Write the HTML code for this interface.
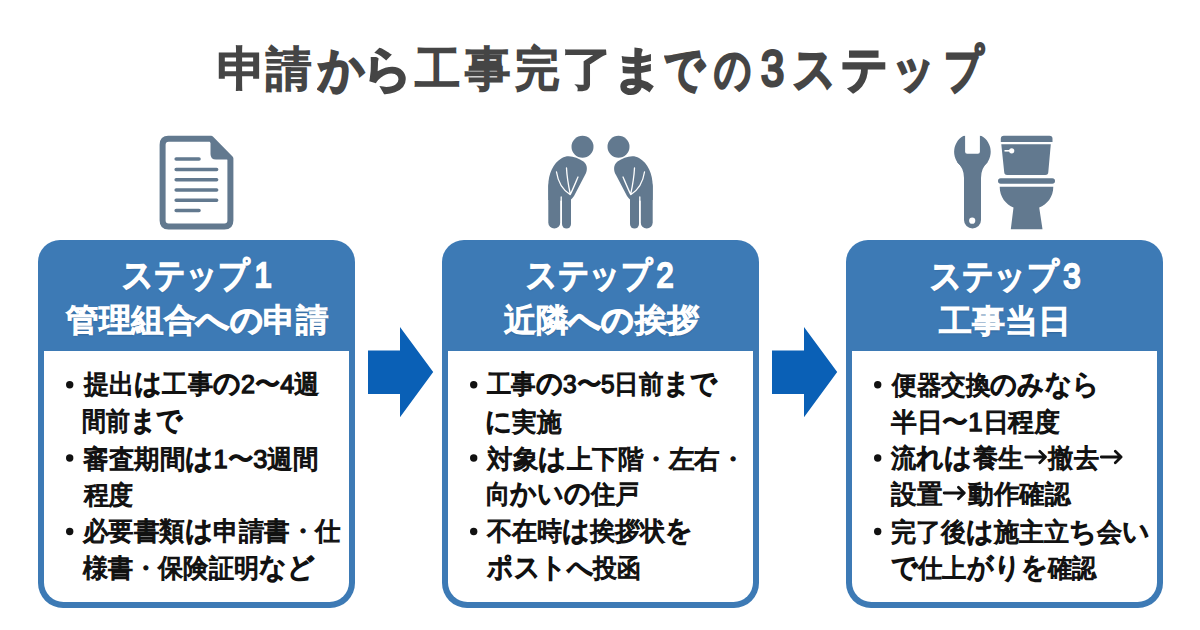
<!DOCTYPE html>
<html lang="ja">
<head>
<meta charset="utf-8">
<style>
html,body{margin:0;padding:0;}
body{width:1200px;height:630px;background:#fff;position:relative;overflow:hidden;font-family:"Liberation Sans",sans-serif;}
.card{position:absolute;top:240px;width:317px;height:367.5px;background:#3d7ab5;border-radius:22px 22px 25px 25px;}
.bd{position:absolute;left:6px;top:111px;right:6px;bottom:6px;background:#fff;border-radius:0 0 19.5px 19.5px;}
.t{position:absolute;white-space:nowrap;font-weight:normal;line-height:60px;transform-origin:0 0;}
.title{font-size:47px;color:#454545;-webkit-text-stroke:2.4px #454545;}
.hd{font-size:32px;color:#fff;-webkit-text-stroke:1.6px #fff;text-shadow:0 1px 2px rgba(10,35,70,0.5);}
.li{font-size:26px;color:#111111;-webkit-text-stroke:1.25px #111111;}
svg.ov{position:absolute;left:0;top:0;}
</style>
</head>
<body>
<div class="card" style="left:38px"><div class="bd"></div></div><div class="card" style="left:442px"><div class="bd"></div></div><div class="card" style="left:846px"><div class="bd"></div></div>
<div class="t title" style="left:216.59px;top:39.3px;font-size:47px;-webkit-text-stroke-width:2.4px;transform:scaleX(1.0539)">申</div><div class="t title" style="left:266.22px;top:39.3px;font-size:47px;-webkit-text-stroke-width:2.4px;transform:scaleX(0.9698)">請</div><div class="t title" style="left:318.19px;top:39.3px;font-size:49px;-webkit-text-stroke-width:3.6px;transform:scaleX(0.9363)">か</div><div class="t title" style="left:363.34px;top:39.3px;font-size:49px;-webkit-text-stroke-width:3.6px;transform:scaleX(0.9944)">ら</div><div class="t title" style="left:414.8px;top:39.3px;font-size:47px;-webkit-text-stroke-width:2.4px;transform:scaleX(0.9652)">工</div><div class="t title" style="left:464.75px;top:39.3px;font-size:47px;-webkit-text-stroke-width:2.4px;transform:scaleX(0.9663)">事</div><div class="t title" style="left:514.6px;top:39.3px;font-size:47px;-webkit-text-stroke-width:2.4px;transform:scaleX(0.9447)">完</div><div class="t title" style="left:562.25px;top:39.3px;font-size:47px;-webkit-text-stroke-width:2.4px;transform:scaleX(1.0842)">了</div><div class="t title" style="left:612.78px;top:39.3px;font-size:49px;-webkit-text-stroke-width:3.6px;transform:scaleX(0.9882)">ま</div><div class="t title" style="left:664.1px;top:39.3px;font-size:49px;-webkit-text-stroke-width:3.6px;transform:scaleX(0.8135)">で</div><div class="t title" style="left:713.5px;top:39.3px;font-size:49px;-webkit-text-stroke-width:3.6px;transform:scaleX(0.75)">の</div><div class="t title" style="left:761.25px;top:39.3px;font-size:50px;-webkit-text-stroke-width:3.2px;transform:scaleX(0.8333)">3</div><div class="t title" style="left:792.5px;top:39.3px;font-size:50px;-webkit-text-stroke-width:3.8px;transform:scaleX(0.8424)">ス</div><div class="t title" style="left:840.65px;top:39.3px;font-size:50px;-webkit-text-stroke-width:3.8px;transform:scaleX(0.9239)">テ</div><div class="t title" style="left:892.37px;top:39.3px;font-size:50px;-webkit-text-stroke-width:3.8px;transform:scaleX(0.8553)">ッ</div><div class="t title" style="left:943.92px;top:39.3px;font-size:50px;-webkit-text-stroke-width:3.8px;transform:scaleX(0.775)">プ</div><div class="t hd" style="left:121.7px;top:245.3px;letter-spacing:0.084px;-webkit-text-stroke-width:2.3px;font-size:35px;transform:scaleX(0.8868)">ステップ<span style="margin-left:5px">1</span></div><div class="t hd" style="left:66.3px;top:290.3px;letter-spacing:0.07px;-webkit-text-stroke-width:1.8px;font-size:32px;transform:scaleX(1.0135)">管理組合<span style="-webkit-text-stroke-width:2.5px">への</span>申請</div><div class="t hd" style="left:525.7px;top:245.3px;letter-spacing:-0.057px;-webkit-text-stroke-width:2.3px;font-size:35px;transform:scaleX(0.8778)">ステップ<span style="margin-left:5px">2</span></div><div class="t hd" style="left:503.75px;top:290.3px;letter-spacing:-0.049px;-webkit-text-stroke-width:1.8px;font-size:32px;transform:scaleX(1.0064)">近隣<span style="-webkit-text-stroke-width:2.5px">への</span>挨拶</div><div class="t hd" style="left:929.6px;top:245.8px;letter-spacing:0.112px;-webkit-text-stroke-width:2.3px;font-size:35px;transform:scaleX(0.891)">ステップ<span style="margin-left:5px">3</span></div><div class="t hd" style="left:939.3px;top:290.6px;letter-spacing:0.033px;-webkit-text-stroke-width:1.8px;font-size:32px;transform:scaleX(1.0301)">工事当日</div><div class="t li" style="left:84.3px;top:354.3px;letter-spacing:0.033px;-webkit-text-stroke-width:1.25px;font-size:26px;transform:scaleX(0.9676)">提出<span style="font-size:28px;line-height:10px;-webkit-text-stroke-width:1.6px">は</span>工事<span style="font-size:28px;line-height:10px;-webkit-text-stroke-width:1.6px">の</span>2〜4週</div><div class="t li" style="left:82.3px;top:391.3px;letter-spacing:-0.181px;-webkit-text-stroke-width:1.25px;font-size:26px;transform:scaleX(0.922)">間前<span style="font-size:28px;line-height:10px;-webkit-text-stroke-width:1.6px">まで</span></div><div class="t li" style="left:83.3px;top:428.6px;letter-spacing:0.022px;-webkit-text-stroke-width:1.25px;font-size:26px;transform:scaleX(0.9808)">審査期間<span style="font-size:28px;line-height:10px;-webkit-text-stroke-width:1.6px">は</span>1〜3週間</div><div class="t li" style="left:84.3px;top:465.4px;letter-spacing:-1.04px;-webkit-text-stroke-width:1.25px;font-size:26px;transform:scaleX(0.9615)">程度</div><div class="t li" style="left:83.3px;top:501.1px;letter-spacing:0.011px;-webkit-text-stroke-width:1.25px;font-size:26px;transform:scaleX(0.9798)">必要書類<span style="font-size:28px;line-height:10px;-webkit-text-stroke-width:1.6px">は</span>申請書・仕</div><div class="t li" style="left:83.3px;top:537.8px;letter-spacing:0.013px;-webkit-text-stroke-width:1.25px;font-size:26px;transform:scaleX(0.9654)">様書・保険証明<span style="font-size:28px;line-height:10px;-webkit-text-stroke-width:1.6px">など</span></div><div class="t li" style="left:487.3px;top:354.3px;letter-spacing:-0.105px;-webkit-text-stroke-width:1.25px;font-size:26px;transform:scaleX(0.9419)">工事<span style="font-size:28px;line-height:10px;-webkit-text-stroke-width:1.6px">の</span>3〜5日前<span style="font-size:28px;line-height:10px;-webkit-text-stroke-width:1.6px">まで</span></div><div class="t li" style="left:485.3px;top:392.3px;letter-spacing:-0.106px;-webkit-text-stroke-width:1.25px;font-size:26px;transform:scaleX(0.9443)"><span style="font-size:28px;line-height:10px;-webkit-text-stroke-width:1.6px">に</span>実施</div><div class="t li" style="left:487.3px;top:428.6px;letter-spacing:-0.033px;-webkit-text-stroke-width:1.25px;font-size:26px;transform:scaleX(0.9838)">対象<span style="font-size:28px;line-height:10px;-webkit-text-stroke-width:1.6px">は</span>上下階・左右・</div><div class="t li" style="left:486.3px;top:464.4px;letter-spacing:0.022px;-webkit-text-stroke-width:1.25px;font-size:26px;transform:scaleX(0.9307)">向<span style="font-size:28px;line-height:10px;-webkit-text-stroke-width:1.6px">かいの</span>住戸</div><div class="t li" style="left:487.3px;top:501.1px;letter-spacing:-0.132px;-webkit-text-stroke-width:1.25px;font-size:26px;transform:scaleX(0.9654)">不在時<span style="font-size:28px;line-height:10px;-webkit-text-stroke-width:1.6px">は</span>挨拶状<span style="font-size:28px;line-height:10px;-webkit-text-stroke-width:1.6px">を</span></div><div class="t li" style="left:487.3px;top:537.8px;letter-spacing:-0.023px;-webkit-text-stroke-width:1.25px;font-size:26px;transform:scaleX(0.9175)"><span style="font-size:28px;line-height:10px;-webkit-text-stroke-width:1.6px">ポストへ</span>投函</div><div class="t li" style="left:892.3px;top:355.3px;letter-spacing:-0.045px;-webkit-text-stroke-width:1.25px;font-size:26px;transform:scaleX(0.944)">便器交換<span style="font-size:28px;line-height:10px;-webkit-text-stroke-width:1.6px">のみなら</span></div><div class="t li" style="left:891.3px;top:392.3px;letter-spacing:-0.117px;-webkit-text-stroke-width:1.25px;font-size:26px;transform:scaleX(0.9947)">半日〜1日程度</div><div class="t li" style="left:891.3px;top:427.6px;letter-spacing:0.102px;-webkit-text-stroke-width:1.25px;font-size:26px;transform:scaleX(0.9689)">流<span style="font-size:28px;line-height:10px;-webkit-text-stroke-width:1.6px">れは</span>養生<svg width="26" height="26" viewBox="0 0 26 26" style="display:inline-block;vertical-align:-3px"><path d="M2 13H22.5M16.5 7.2L22.5 13L16.5 18.8" fill="none" stroke="#111" stroke-width="2.8" stroke-linecap="round" stroke-linejoin="round"/></svg>撤去<svg width="26" height="26" viewBox="0 0 26 26" style="display:inline-block;vertical-align:-3px"><path d="M2 13H22.5M16.5 7.2L22.5 13L16.5 18.8" fill="none" stroke="#111" stroke-width="2.8" stroke-linecap="round" stroke-linejoin="round"/></svg></div><div class="t li" style="left:891.3px;top:464.4px;letter-spacing:0.051px;-webkit-text-stroke-width:1.25px;font-size:26px;transform:scaleX(0.9842)">設置<svg width="26" height="26" viewBox="0 0 26 26" style="display:inline-block;vertical-align:-3px"><path d="M2 13H22.5M16.5 7.2L22.5 13L16.5 18.8" fill="none" stroke="#111" stroke-width="2.8" stroke-linecap="round" stroke-linejoin="round"/></svg>動作確認</div><div class="t li" style="left:891.3px;top:502.1px;letter-spacing:-0.036px;-webkit-text-stroke-width:1.25px;font-size:26px;transform:scaleX(0.9622)">完了後<span style="font-size:28px;line-height:10px;-webkit-text-stroke-width:1.6px">は</span>施主立<span style="font-size:28px;line-height:10px;-webkit-text-stroke-width:1.6px">ち</span>会<span style="font-size:28px;line-height:10px;-webkit-text-stroke-width:1.6px">い</span></div><div class="t li" style="left:891.3px;top:537.8px;letter-spacing:-0.093px;-webkit-text-stroke-width:1.25px;font-size:26px;transform:scaleX(0.9355)"><span style="font-size:28px;line-height:10px;-webkit-text-stroke-width:1.6px">で</span>仕上<span style="font-size:28px;line-height:10px;-webkit-text-stroke-width:1.6px">がりを</span>確認</div>
<svg class="ov" width="1200" height="630" viewBox="0 0 1200 630">
<g fill="#111111"><circle cx="69.7" cy="384.7" r="3.7"/><circle cx="69.7" cy="458.0" r="3.7"/><circle cx="69.7" cy="531.5" r="3.7"/><circle cx="473.7" cy="384.7" r="3.7"/><circle cx="473.7" cy="458.0" r="3.7"/><circle cx="473.7" cy="531.5" r="3.7"/><circle cx="877.7" cy="384.7" r="3.7"/><circle cx="877.7" cy="458.0" r="3.7"/><circle cx="877.7" cy="531.5" r="3.7"/></g>
<g fill="#0a60b6">
<polygon points="368,350.5 400,350.5 400,327 433.2,372 400,417.2 400,394 368,394"/>
<polygon points="772,350.5 804,350.5 804,327 837.2,372 804,417.2 804,394 772,394"/>
</g>
<!-- document icon -->
<g fill="none" stroke="#62798f" stroke-width="6" stroke-linejoin="round" stroke-linecap="round">
<path d="M168,138.8 H211 L230.4,158.5 V220.4 Q230.4,226.4 224.4,226.4 H168.6 Q162.6,226.4 162.6,220.4 V144.8 Q162.6,138.8 168.6,138.8 Z"/>
</g>
<path fill="#62798f" d="M210.5,137.5 L232.5,159.5 L216,159.5 Q210.5,159.5 210.5,154 Z"/>
<g stroke="#62798f" stroke-width="3.6" stroke-linecap="round">
<path d="M176.2,159 H199 M176.2,169.5 H216.6 M176.2,179.8 H216.6 M176.2,190 H216.6 M176.2,200.3 H216.6 M176.2,210.5 H199"/>
</g>
<!-- bowing people -->
<g fill="#62798f">
<circle cx="582.5" cy="146.8" r="11"/>
<path id="bodyL" d="M548.3,200 L548.3,186 C548.3,174 553,163 562,158 C568,154 577,157 583.5,161.5 C588,165 587.5,171 585,175 L574,196 C572,199 570,201 566,201 Z"/>
<rect x="548.3" y="180" width="12" height="48.5" rx="6"/>
<rect x="562" y="185" width="9" height="43.5" rx="4.5"/>
</g>
<g fill="none" stroke="#fff" stroke-width="1.3" stroke-linecap="round">
<path d="M556.5,172 C558,182 563,190 570,194.5 M566.5,168 C567,178 568.5,186 570.3,194 M578,177 C575,184 572.5,190 570.3,194.5"/>
<path d="M561.2,197 V228"/>
</g>
<g transform="translate(1201,0) scale(-1,1)">
<g fill="#62798f">
<circle cx="582.5" cy="146.8" r="11"/>
<path d="M548.3,200 L548.3,186 C548.3,174 553,163 562,158 C568,154 577,157 583.5,161.5 C588,165 587.5,171 585,175 L574,196 C572,199 570,201 566,201 Z"/>
<rect x="548.3" y="180" width="12" height="48.5" rx="6"/>
<rect x="562" y="185" width="9" height="43.5" rx="4.5"/>
</g>
<g fill="none" stroke="#fff" stroke-width="1.3" stroke-linecap="round">
<path d="M556.5,172 C558,182 563,190 570,194.5 M566.5,168 C567,178 568.5,186 570.3,194 M578,177 C575,184 572.5,190 570.3,194.5"/>
<path d="M561.2,197 V228"/>
</g>
</g>
<!-- wrench -->
<defs><clipPath id="wc"><rect x="940" y="135.8" width="60" height="100"/></clipPath></defs>
<g fill="#62798f" clip-path="url(#wc)">
<path fill-rule="evenodd" d="M972.4,133.5 a18.3,18.3 0 1 0 0.01,0 Z M965.1,120 H979.9 V151.8 Q979.9,153.8 977.9,153.8 H967.1 Q965.1,153.8 965.1,151.8 Z"/>
<path d="M964,165 H981 V220 A8.5,8.5 0 0 1 964,220 Z"/><path d="M957,162 Q964,168 964,178 L964,158 Z M987.8,162 Q981,168 981,178 L981,158 Z"/>
</g>
<circle cx="972.2" cy="220.7" r="3.1" fill="#fff"/>
<!-- toilet -->
<g fill="#62798f">
<path d="M1003.8,135.8 H1049.5 Q1052.5,135.8 1052.5,138.8 V142 H1000.8 V138.8 Q1000.8,135.8 1003.8,135.8 Z"/>
<path d="M1001.3,144.2 H1050.8 L1048.3,172 Q1048.3,175 1045.3,175 H1007.2 Q1004.2,175 1004.2,172 Z"/>
<rect x="998" y="178.3" width="57" height="5.4" rx="2.7"/>
<path d="M999.7,186.7 H1053.3 C1053.3,197 1047,204.5 1039.2,207.5 L1042.5,229.2 H1010.8 L1013.5,207.5 C1006,204.5 999.7,197 999.7,186.7 Z"/>
</g>
<g fill="#fff"><circle cx="1011.7" cy="150.8" r="2.6"/><rect x="1004.5" y="150" width="7" height="1.6"/></g>
</svg>
</body>
</html>
